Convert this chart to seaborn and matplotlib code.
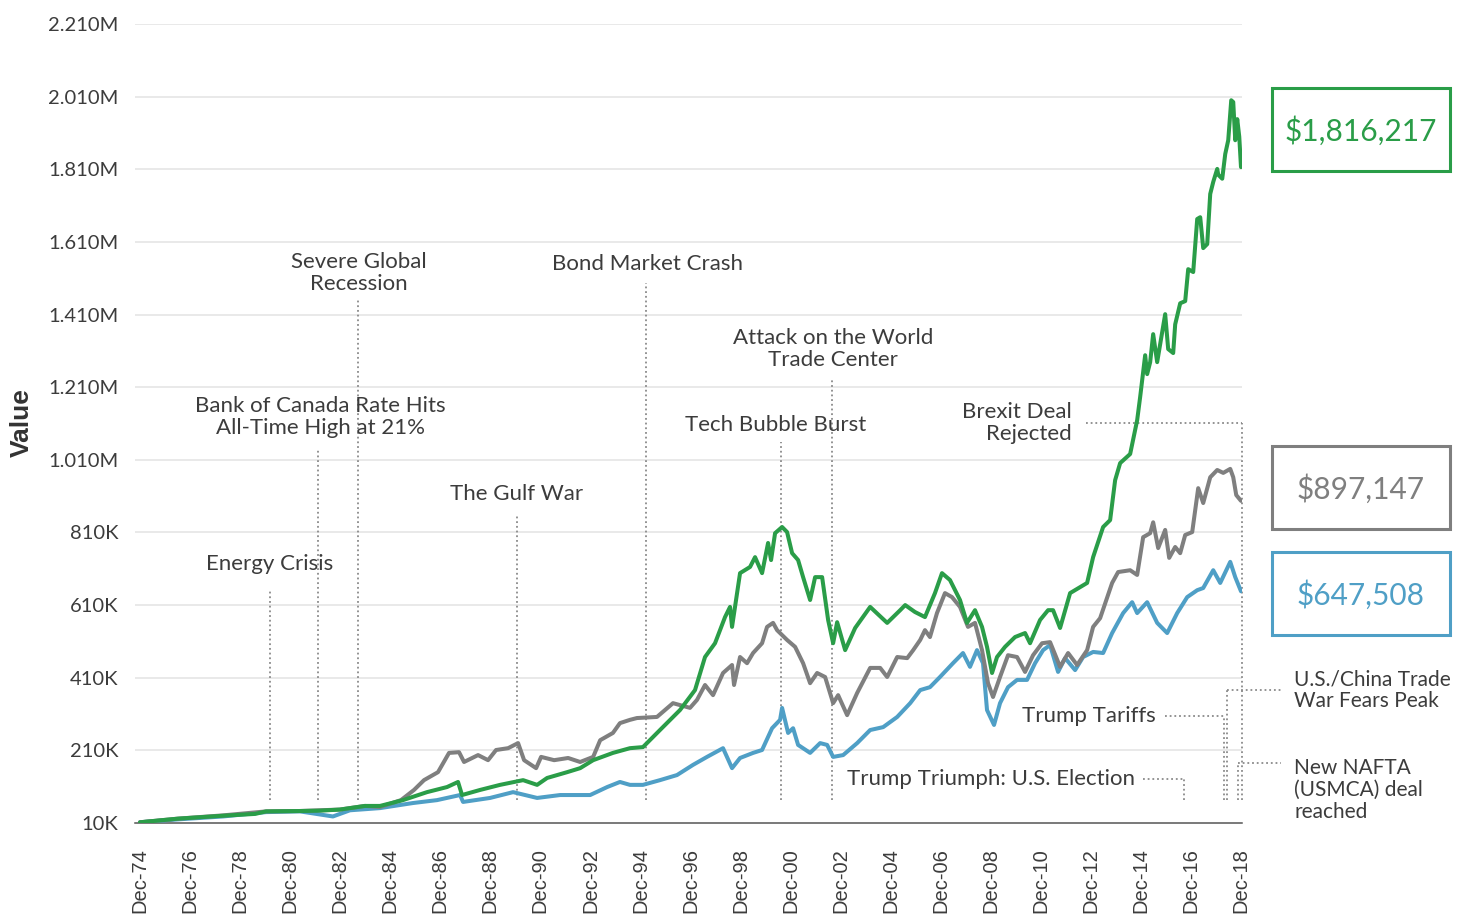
import matplotlib
matplotlib.use("Agg")
import matplotlib.pyplot as plt
import matplotlib.patches as mpatches
import pandas as pd
import seaborn as sns

# ---- data (years after Dec-74, value in thousands of dollars) ----
green_years = [0, 1.52, 3.32, 4.60, 5.04, 6.39, 7.19, 7.99, 8.99, 9.59, 10.51, 11.47, 12.27, 12.71,
               12.87, 13.59, 14.39, 15.31, 15.87, 16.27, 17.07, 17.59, 18.11, 18.90, 19.58, 20.10,
               20.78, 21.58, 22.18, 22.58, 22.98, 23.38, 23.58, 23.66, 23.98, 24.38, 24.58, 24.86,
               25.10, 25.22, 25.38, 25.66, 25.86, 26.06, 26.30, 26.50, 26.78, 26.98, 27.26, 27.50,
               27.70, 27.86, 28.18, 28.58, 29.18, 29.86, 30.38, 30.58, 30.97, 31.37, 31.77, 32.05,
               32.37, 32.77, 33.05, 33.37, 33.65, 33.85, 34.05, 34.25, 34.57, 34.97, 35.37, 35.57,
               35.97, 36.29, 36.49, 36.77, 37.17, 37.85, 38.09, 38.49, 38.77, 38.97, 39.17, 39.57,
               39.85, 39.97, 40.17, 40.25, 40.37, 40.49, 40.65, 40.97, 41.09, 41.29, 41.37, 41.57,
               41.77, 41.89, 42.09, 42.25, 42.37, 42.49, 42.65, 42.77, 42.89, 43.05, 43.09, 43.25,
               43.37, 43.49, 43.61, 43.69, 43.77, 43.85, 43.93, 44.0]
green_values = [12, 22, 30, 35, 42, 43, 44, 47, 57, 57, 73, 95, 109, 123,
                87, 101, 115, 128, 115, 134, 150, 161, 183, 203, 216, 219,
                266, 321, 376, 467, 505, 577, 605, 550, 698, 715, 742, 698,
                781, 734, 808, 825, 811, 753, 734, 687, 624, 687, 687, 569,
                505, 563, 486, 547, 605, 561, 596, 610, 591, 577, 643, 698,
                679, 624, 561, 596, 550, 495, 423, 467, 495, 522, 533, 505,
                569, 596, 596, 547, 643, 671, 742, 825, 844, 954, 1001, 1026,
                1119, 1183, 1298, 1246, 1279, 1356, 1279, 1411, 1315, 1304, 1383, 1441,
                1447, 1535, 1527, 1673, 1678, 1593, 1604, 1742, 1775, 1811, 1795, 1784,
                1852, 1890, 2000, 1995, 1890, 1948, 1900, 1816]

gray_years = [0, 1.52, 3.32, 5.04, 6.39, 7.99, 8.99, 9.59, 10.43, 10.95, 11.35, 11.91, 12.35,
              12.75, 12.95, 13.51, 13.91, 14.23, 14.71, 15.11, 15.35, 15.83, 16.03, 16.55, 17.11,
              17.59, 18.11, 18.39, 18.90, 19.18, 19.58, 19.86, 20.66, 21.30, 21.98, 22.26, 22.58,
              22.90, 23.30, 23.66, 23.74, 23.98, 24.26, 24.50, 24.86, 25.06, 25.30, 25.46, 25.86,
              26.18, 26.50, 26.78, 27.06, 27.38, 27.70, 27.90, 28.26, 28.66, 29.18, 29.58, 29.86,
              30.26, 30.66, 30.90, 31.18, 31.37, 31.57, 31.85, 32.17, 32.45, 32.77, 33.09, 33.37,
              33.65, 33.89, 34.09, 34.37, 34.69, 35.05, 35.37, 35.69, 36.05, 36.37, 36.77, 37.09,
              37.45, 37.85, 38.09, 38.37, 38.85, 39.09, 39.57, 39.85, 40.09, 40.37, 40.49, 40.69,
              40.97, 41.13, 41.37, 41.57, 41.77, 42.05, 42.29, 42.49, 42.77, 43.05, 43.29, 43.57,
              43.69, 43.81, 44.0]
gray_values = [12, 22, 31, 42, 43, 47, 57, 54, 73, 101, 128, 150, 203,
               205, 178, 197, 183, 211, 216, 230, 183, 161, 192, 183, 189,
               178, 192, 238, 258, 285, 294, 299, 302, 340, 327, 349, 390,
               362, 423, 445, 390, 467, 450, 478, 505, 550, 561, 541, 514,
               495, 450, 395, 423, 412, 340, 362, 307, 368, 437, 437, 412,
               467, 464, 486, 514, 541, 522, 588, 643, 632, 605, 550, 561,
               486, 395, 357, 412, 472, 467, 426, 472, 505, 508, 440, 478,
               445, 486, 550, 574, 671, 701, 706, 693, 797, 808, 838, 767,
               817, 740, 770, 753, 803, 811, 932, 891, 962, 982, 974, 985,
               962, 913, 897]

blue_years = [0, 1.52, 3.32, 5.04, 6.39, 7.71, 8.39, 9.59, 10.91, 11.87, 12.79, 12.91, 13.99,
              14.91, 15.87, 16.79, 17.99, 18.67, 19.18, 19.58, 20.10, 20.78, 21.46, 22.10, 22.66,
              23.30, 23.66, 23.98, 24.50, 24.86, 25.26, 25.58, 25.66, 25.90, 26.10, 26.30, 26.78,
              27.18, 27.46, 27.70, 28.10, 28.66, 29.18, 29.70, 30.26, 30.78, 31.18, 31.57, 31.97,
              32.49, 32.89, 33.17, 33.45, 33.69, 33.85, 34.13, 34.37, 34.69, 35.05, 35.45, 35.77,
              36.09, 36.37, 36.69, 36.97, 37.37, 37.69, 38.09, 38.49, 38.85, 39.29, 39.65, 39.85,
              40.25, 40.65, 41.05, 41.45, 41.85, 42.25, 42.49, 42.89, 43.17, 43.57, 43.77, 44.0]
blue_values = [12, 20, 28, 40, 42, 28, 45, 51, 65, 73, 87, 68, 79,
               95, 79, 87, 87, 109, 123, 115, 115, 128, 142, 170, 192,
               216, 161, 189, 203, 211, 271, 294, 327, 258, 271, 225, 203,
               230, 225, 192, 197, 230, 266, 274, 302, 340, 376, 384, 412,
               450, 478, 440, 486, 450, 321, 280, 340, 384, 404, 404, 450,
               486, 500, 426, 464, 431, 467, 481, 478, 533, 588, 618, 588,
               618, 561, 533, 588, 632, 651, 657, 706, 671, 729, 687, 648]

tick_years = list(range(0, 45, 2))
tick_labels = [f"Dec-{(74 + y) % 100:02d}" for y in tick_years]
y_ticks = [10, 210, 410, 610, 810, 1010, 1210, 1410, 1610, 1810, 2010, 2210]
y_labels = ["10K", "210K", "410K", "610K", "810K", "1.010M", "1.210M", "1.410M",
            "1.610M", "1.810M", "2.010M", "2.210M"]

final_values = [1816217, 897147, 647508]
series_colors = ["#2a9d48", "#7f7f7f", "#4f9fc6"]

TXT = "#3c3c3c"
DOT = "#8a8a8a"

sns.set_theme(style="white")
plt.rcParams["font.family"] = ["Lato", "DejaVu Sans"]

fig = plt.figure(figsize=(14.57, 9.22), dpi=100)
ax = fig.add_axes([135 / 1457, 1 - 823 / 922, (1242 - 135) / 1457, (823 - 24) / 922])

# grid
for yv in y_ticks[1:]:
    ax.axhline(yv, color="#e3e3e3", lw=1.1, zorder=0)

# ---- annotation leaders (dotted) ----
def vline(x, ytop, ybot=73):
    ax.plot([x, x], [ybot, ytop], color=DOT, lw=1.3, ls=(0, (1, 1.6)), zorder=1, clip_on=False)

def hline(x0, x1, y):
    ax.plot([x0, x1], [y, y], color=DOT, lw=1.3, ls=(0, (1, 1.6)), zorder=1, clip_on=False)

vline(5.2, 650)
vline(7.11, 1040)
vline(8.71, 1450)
vline(15.07, 862)
vline(20.22, 1497)
vline(25.62, 1059)
vline(27.66, 1235)
hline(37.8, 44.04, 1111)
vline(44.04, 1111)
hline(40.95, 43.33, 305)
vline(43.33, 305)
hline(40.1, 41.73, 131)
vline(41.73, 131)
hline(43.45, 45.6, 376)
vline(43.45, 376)
hline(43.88, 45.6, 175)
vline(43.88, 175)

# ---- series ----
frames = [
    (blue_years, blue_values, series_colors[2]),
    (gray_years, gray_values, series_colors[1]),
    (green_years, green_values, series_colors[0]),
]
for yrs, vals, col in frames:
    df = pd.DataFrame({"year": yrs, "value": vals})
    sns.lineplot(data=df, x="year", y="value", ax=ax, color=col, lw=2.9,
                 estimator=None, sort=False, zorder=3)

ax.set_xlim(-0.2, 44.04)
ax.set_ylim(10, 2210)
ax.set_xticks(tick_years)
ax.set_xticklabels(tick_labels, rotation=90, fontsize=14.5, color=TXT,
                   family=["Liberation Sans", "DejaVu Sans"])
ax.set_yticks(y_ticks)
ax.set_yticklabels(y_labels, fontsize=14.5, color=TXT)
ax.tick_params(axis="x", length=9, width=1.1, color="#555555", pad=9, direction="out")
ax.tick_params(axis="y", length=0, pad=12)
ax.set_xlabel("")
ax.set_ylabel("")
for s in ["top", "right", "left"]:
    ax.spines[s].set_visible(False)
ax.spines["bottom"].set_color("#555555")
ax.spines["bottom"].set_linewidth(1.1)

fig.text(22 / 1457, 1 - 423 / 922, "Value", rotation=90, fontsize=19, fontweight="bold",
         color="#333333", ha="center", va="center", family=["Liberation Sans", "DejaVu Sans"])

# ---- annotation texts ----
fs = 16
ann = dict(fontsize=fs, color=TXT, linespacing=1.12, clip_on=False)
ax.text(5.2, 723, "Energy Crisis", ha="center", va="center", **ann)
ax.text(7.2, 1128, "Bank of Canada Rate Hits\nAll-Time High at 21%", ha="center", va="center", **ann)
ax.text(8.75, 1524, "Severe Global\nRecession", ha="center", va="center", **ann)
ax.text(15.05, 916, "The Gulf War", ha="center", va="center", **ann)
ax.text(20.3, 1549, "Bond Market Crash", ha="center", va="center", **ann)
ax.text(25.4, 1106, "Tech Bubble Burst", ha="center", va="center", **ann)
ax.text(27.7, 1315, "Attack on the World\nTrade Center", ha="center", va="center", **ann)
ax.text(37.25, 1111, "Brexit Deal\nRejected", ha="right", va="center", multialignment="right", **ann)
ax.text(40.61, 305, "Trump Tariffs", ha="right", va="center", **ann)
ax.text(39.77, 131, "Trump Triumph: U.S. Election", ha="right", va="center", **ann)

side = dict(fontsize=15, color=TXT, linespacing=1.12, clip_on=False)
ax.text(46.12, 376, "U.S./China Trade\nWar Fears Peak", ha="left", va="center", **side)
ax.text(46.12, 101, "New NAFTA\n(USMCA) deal\nreached", ha="left", va="center", **side)

# ---- final value boxes ----
box_tops = [88, 446, 552]
for val, col, top in zip(final_values, series_colors, box_tops):
    rect = mpatches.Rectangle((1272 / 1457, 1 - (top + 83) / 922), 178 / 1457, 83 / 922,
                              transform=fig.transFigure, fill=False, edgecolor=col, lw=2.2)
    fig.patches.append(rect)
    fig.text(1361 / 1457, 1 - (top + 43) / 922, f"${val:,}", fontsize=21.5, color=col,
             ha="center", va="center")

fig.savefig("out.png", dpi=100)
plt.close(fig)
